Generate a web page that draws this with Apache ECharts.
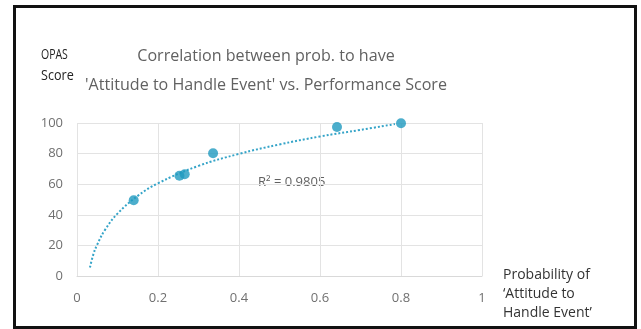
<!DOCTYPE html>
<html><head><meta charset="utf-8">
<script src="https://cdn.jsdelivr.net/npm/echarts@6/dist/echarts.min.js"></script>
<style>html,body{margin:0;padding:0;background:#fff}#c{width:641px;height:329px}</style>
</head><body><div id="c"></div>
<script>
const titleLines = ["Correlation between prob. to have", "'Attitude to Handle Event' vs. Performance Score"];
const xTicks = [0, 0.2, 0.4, 0.6, 0.8, 1];
const yTicks = [0, 20, 40, 60, 80, 100];
const probX = [0.140, 0.253, 0.266, 0.336, 0.642, 0.800];
const scoreY = [49.5, 65.5, 66.5, 80.2, 97.4, 99.8];
const trendX = [0.032, 0.04, 0.05, 0.07, 0.1, 0.15, 0.2, 0.3, 0.4, 0.5, 0.6, 0.7, 0.785];
const trendY = [5.5, 13.8, 20.6, 30.5, 40.8, 52.4, 60.6, 72.0, 79.8, 86.0, 91.2, 95.5, 99.3];
const rSquared = "R² = 0.9805";

const FONT = "'Open Sans',sans-serif";
const chart = echarts.init(document.getElementById('c'), null, {renderer: 'canvas'});
chart.setOption({
  animation: false,
  backgroundColor: '#fff',
  grid: {left: 77, right: 159, top: 123, bottom: 53, containLabel: false},
  xAxis: {
    type: 'value', min: 0, max: 1, interval: 0.2,
    axisLine: {show: true, lineStyle: {color: '#d9d9d9', width: 1}},
    axisTick: {show: false},
    splitLine: {show: true, lineStyle: {color: '#e3e3e3', width: 1}},
    axisLabel: {color: '#707070', fontFamily: FONT, fontSize: 13, margin: 16,
      formatter: v => xTicks.includes(+v.toFixed(1)) ? String(+v.toFixed(1)) : ''}
  },
  yAxis: {
    type: 'value', min: 0, max: 100, interval: 20,
    axisLine: {show: false}, axisTick: {show: false},
    splitLine: {show: true, lineStyle: {color: '#e3e3e3', width: 1}},
    axisLabel: {color: '#707070', fontFamily: FONT, fontSize: 13, margin: 14,
      formatter: v => yTicks.includes(v) ? String(v) : ''}
  },
  series: [
    {
      type: 'line', data: trendX.map((x, i) => [x, trendY[i]]),
      smooth: 0.4, showSymbol: false, symbol: 'none',
      lineStyle: {color: '#35a4c8', width: 2, type: [2, 2]}, z: 2
    },
    {
      type: 'scatter', data: probX.map((x, i) => [x, scoreY[i]]),
      symbolSize: 10, itemStyle: {color: '#1f9abf'}, z: 3
    }
  ],
  graphic: [
    {type: 'rect', shape: {x: 14.5, y: 6.5, width: 621, height: 321}, style: {fill: 'none', stroke: '#111', lineWidth: 3}, silent: true},
    {type: 'text', x: 266, y: 56, scaleX: 0.946, style: {text: titleLines[0], fill: '#616161', font: "17px " + FONT, textAlign: 'center', textVerticalAlign: 'middle'}},
    {type: 'text', x: 266, y: 85, scaleX: 0.946, style: {text: titleLines[1], fill: '#616161', font: "17px " + FONT, textAlign: 'center', textVerticalAlign: 'middle'}},
    {type: 'text', x: 41, y: 55.5, scaleX: 0.75, style: {text: 'OPAS', fill: '#222', font: "14px " + FONT, textAlign: 'left', textVerticalAlign: 'middle'}},
    {type: 'text', x: 41, y: 76, scaleX: 0.9, style: {text: 'Score', fill: '#222', font: "14px " + FONT, textAlign: 'left', textVerticalAlign: 'middle'}},
    {type: 'text', x: 258, y: 182, style: {text: rSquared, fill: '#616161', font: "13px " + FONT, textAlign: 'left', textVerticalAlign: 'middle'}},
    {type: 'text', x: 503, y: 275, style: {text: 'Probability of', fill: '#333', font: "14px " + FONT, textAlign: 'left', textVerticalAlign: 'middle'}},
    {type: 'text', x: 503, y: 294, style: {text: '\u2018Attitude to', fill: '#333', font: "14px " + FONT, textAlign: 'left', textVerticalAlign: 'middle'}},
    {type: 'text', x: 503, y: 313, style: {text: 'Handle Event\u2019', fill: '#333', font: "14px " + FONT, textAlign: 'left', textVerticalAlign: 'middle'}}
  ]
});
</script></body></html>
